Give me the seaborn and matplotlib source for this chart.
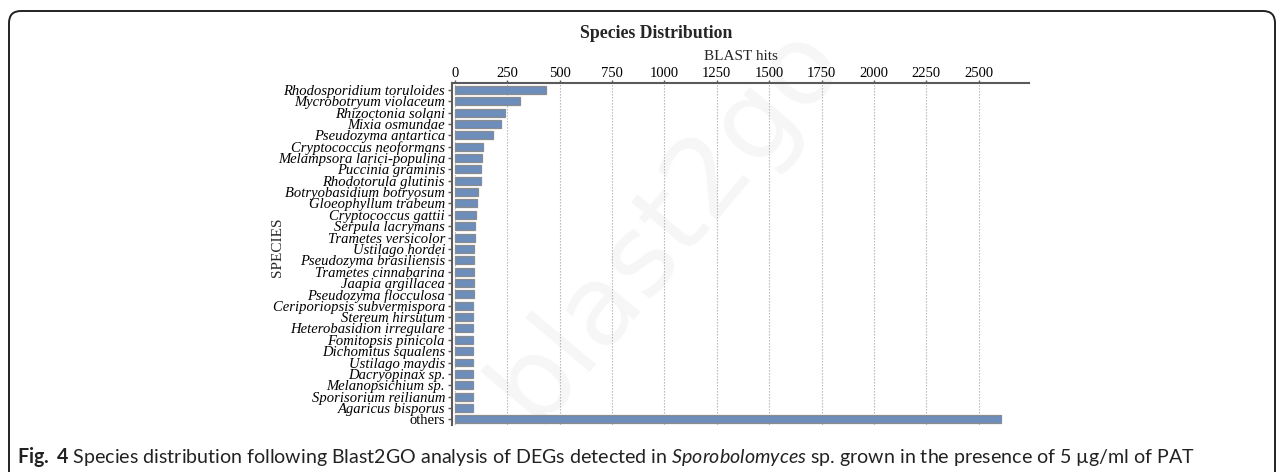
import matplotlib
matplotlib.use("Agg")
import matplotlib.pyplot as plt
import seaborn as sns
import pandas as pd
from matplotlib.patches import FancyBboxPatch

# Top BLAST hit species and their hit counts
species = [
    "Rhodosporidium toruloides", "Mycrobotryum violaceum", "Rhizoctonia solani",
    "Mixia osmundae", "Pseudozyma antartica", "Cryptococcus neoformans",
    "Melampsora larici-populina", "Puccinia graminis", "Rhodotorula glutinis",
    "Botryobasidium botryosum", "Gloeophyllum trabeum", "Cryptococcus gattii",
    "Serpula lacrymans", "Trametes versicolor", "Ustilago hordei",
    "Pseudozyma brasiliensis", "Trametes cinnabarina", "Jaapia argillacea",
    "Pseudozyma flocculosa", "Ceriporiopsis subvermispora", "Stereum hirsutum",
    "Heterobasidion irregulare", "Fomitopsis pinicola", "Dichomitus squalens",
    "Ustilago maydis", "Dacryopinax sp.", "Melanopsichium sp.",
    "Sporisorium reilianum", "Agaricus bisporus", "others",
]
hits = [434, 312, 240, 219, 181, 134, 129, 124, 124, 108, 103, 100, 95, 94, 92,
        92, 92, 89, 89, 88, 88, 88, 88, 88, 88, 84, 84, 84, 84, 2605]
x_ticks = [0, 250, 500, 750, 1000, 1250, 1500, 1750, 2000, 2250, 2500]

sns.set_theme(style="white")
plt.rcParams["font.family"] = ["Liberation Serif", "DejaVu Serif"]
plt.rcParams["mathtext.fontset"] = "custom"
plt.rcParams["mathtext.rm"] = "Lato"
plt.rcParams["mathtext.it"] = "Lato:italic"
plt.rcParams["mathtext.bf"] = "Lato:bold"

W, H = 1281, 472
fig = plt.figure(figsize=(W / 100, H / 100), dpi=100)

# faint watermark behind the plot
fig.text(0.52, 0.53, "blast2go", rotation=50, fontsize=80, color="#f6f6f6",
         family="DejaVu Sans", ha="center", va="center", zorder=-5)

ax = fig.add_axes([452 / W, 1 - 425 / H, (1029 - 452) / W, (425 - 83) / H])
ax.patch.set_alpha(0)

df = pd.DataFrame({"species": species, "hits": hits})
sns.barplot(data=df, x="hits", y="species", color="#6d8dbb", saturation=1,
            edgecolor="#8c8c8c", linewidth=0.9, width=0.7, ax=ax)

ax.set_xlim(-14, 2740)
ax.set_ylim(29.5, -0.6)
ax.xaxis.tick_top()
ax.xaxis.set_label_position("top")
ax.set_xticks(x_ticks)
ax.set_xticklabels([str(t) for t in x_ticks])
ax.set_xlabel("BLAST hits", fontsize=11, labelpad=4.5)
ax.set_ylabel("")

for side in ["right", "bottom"]:
    ax.spines[side].set_visible(False)
for side in ["top", "left"]:
    ax.spines[side].set_color("#5a5a5a")
    ax.spines[side].set_linewidth(1.5)

ax.tick_params(axis="x", top=True, bottom=False, direction="out", length=2.5,
               width=1, pad=0, labelsize=10.5, color="#5a5a5a", labelcolor="black")
ax.tick_params(axis="y", left=True, direction="out", length=3, width=1, pad=2,
               labelsize=10.5, color="#5a5a5a", labelcolor="black")
for lbl in ax.get_yticklabels():
    lbl.set_fontstyle("normal" if lbl.get_text() == "others" else "italic")

ax.grid(True, axis="x", linestyle=(0, (1.2, 1.5)), color="#b0b0b0", linewidth=0.8)
ax.grid(False, axis="y")
ax.set_axisbelow(True)

fig.text(656 / W, 1 - 34 / H, "Species Distribution", ha="center", va="center",
         fontweight="bold", fontsize=12.8)
fig.text(278 / W, 1 - 247 / H, "SPECIES", rotation=90, ha="center", va="center",
         fontsize=11)

# caption below the chart
caption = (r"$\mathbf{Fig.\ 4}$ Species distribution following Blast2GO analysis of "
           r"DEGs detected in $\mathit{Sporobolomyces}$ sp. grown in the presence of "
           "5 µg/ml of PAT")
fig.text(17 / W, 1 - 463 / H, caption, ha="left", va="baseline", fontsize=14.1,
         family="Lato", color="#222222")

# rounded frame around the figure (open below the crop)
frame = FancyBboxPatch((9, -30), 1266, H - 11 + 30, boxstyle="round,pad=0,rounding_size=12",
                       transform=None, facecolor="none", edgecolor="#222222",
                       linewidth=1.4, zorder=10)
fig.patches.append(frame)

fig.savefig("out.png", dpi=100)
